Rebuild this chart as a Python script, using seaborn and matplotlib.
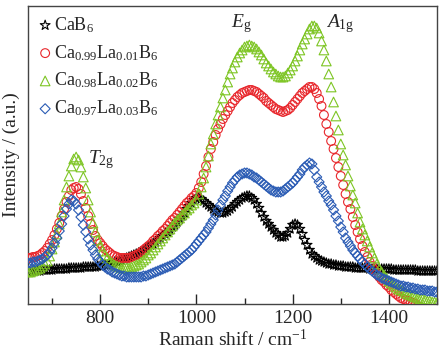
import numpy as np
import matplotlib
matplotlib.use("Agg")
import matplotlib.pyplot as plt
import seaborn as sns
import pandas as pd

# Raman shift (cm-1), sampled every 5 cm-1
shift = list(range(650, 1501, 5))

# intensities (a.u.)
cab6 = [32, 32, 33, 33, 33, 33, 34, 34, 34, 34, 34, 35, 35, 35, 35, 35, 35, 36, 36, 36, 36, 36, 36, 37, 37, 37, 37, 37, 37, 38, 38,
        38, 39, 39, 40, 41, 42, 42, 43, 44, 45, 46, 47, 48, 49, 50, 51, 52, 54, 55, 57, 59, 60, 62, 64, 66, 68, 70, 72, 74, 77, 79, 82, 85, 88, 91, 95, 98, 101, 104, 106,
        106, 105, 103, 101, 99, 97, 95, 93, 92, 91, 91, 92, 93, 95, 97, 100, 102, 104, 106, 107, 108, 108, 106, 104, 100, 96, 91, 87, 83, 80, 77, 74, 71, 69, 67, 67, 68, 71, 75, 79,
        80, 79, 75, 70, 64, 59, 54, 50, 48, 46, 44, 43, 42, 41, 40, 40, 39, 39, 38, 38, 38, 37, 37, 37, 37, 36, 36, 36, 36, 36, 36, 35, 35, 35, 35, 35, 35, 35, 35, 35,
        35, 34, 34, 34, 34, 34, 34, 34, 34, 34, 34, 33, 33, 33, 33, 33, 33, 33, 33, 33]
la001 = [46, 46, 47, 47, 48, 49, 51, 53, 56, 60, 64, 69, 75, 81, 88, 95, 102, 108, 114, 116, 117, 115, 110, 103, 96, 88, 80, 74, 68, 64, 61,
         58, 55, 53, 51, 49, 48, 47, 46, 46, 46, 46, 46, 47, 48, 49, 50, 52, 54, 56, 58, 60, 63, 65, 68, 70, 73, 75, 78, 81, 84, 86, 89, 92, 95, 98, 101, 103, 106, 108, 111,
         116, 122, 130, 138, 147, 155, 162, 169, 175, 180, 185, 189, 193, 197, 201, 204, 207, 209, 211, 212, 213, 214, 214, 213, 212, 210, 208, 206, 203, 201, 199, 197, 195, 194, 193, 192, 193, 194, 196, 199,
         202, 205, 208, 211, 213, 215, 217, 217, 215, 211, 205, 198, 189, 180, 172, 163, 155, 146, 137, 128, 119, 110, 102, 95, 87, 79, 72, 65, 58, 52, 47, 42, 38, 34, 30, 27, 24, 22, 19, 17,
         14, 12, 10, 8, 6, 5, 4, 3, 2, 1, 0, -2, -3, -4, -5, -6, -7, -8, -9, -10]
la002 = [32, 32, 33, 34, 35, 36, 38, 40, 43, 48, 55, 62, 70, 80, 92, 104, 117, 128, 138, 145, 147, 144, 137, 127, 116, 104, 92, 81, 72, 64, 58,
         53, 49, 46, 43, 41, 39, 38, 37, 36, 36, 36, 36, 37, 38, 39, 40, 42, 44, 46, 49, 51, 54, 57, 60, 63, 66, 69, 72, 75, 78, 81, 84, 86, 89, 91, 94, 96, 99, 101, 104,
         110, 117, 126, 137, 148, 160, 170, 180, 189, 197, 206, 214, 222, 230, 236, 242, 247, 251, 254, 257, 258, 259, 258, 257, 255, 252, 249, 245, 241, 238, 235, 232, 230, 228, 227, 227, 228, 231, 234, 238,
         243, 248, 254, 260, 265, 270, 275, 278, 278, 276, 271, 263, 254, 243, 230, 217, 202, 188, 174, 160, 149, 139, 128, 118, 109, 101, 91, 82, 75, 69, 63, 57, 51, 46, 40, 35, 32, 29, 26, 23,
         21, 19, 17, 15, 14, 13, 11, 10, 9, 8, 7, 6, 5, 5, 4, 3, 3, 2, 2, 1]
la003 = [41, 41, 42, 42, 43, 44, 45, 47, 49, 52, 56, 61, 66, 73, 80, 88, 95, 100, 104, 103, 100, 94, 87, 79, 72, 65, 59, 54, 49, 45, 42,
         39, 37, 35, 34, 32, 31, 30, 29, 28, 28, 27, 27, 27, 27, 27, 27, 27, 28, 28, 29, 30, 31, 32, 33, 34, 35, 36, 37, 38, 39, 40, 42, 44, 46, 48, 50, 52, 54, 57, 60,
         63, 66, 69, 72, 76, 80, 84, 89, 94, 99, 104, 108, 113, 117, 121, 124, 127, 129, 130, 131, 131, 130, 129, 127, 126, 124, 122, 120, 118, 116, 114, 113, 112, 112, 112, 113, 115, 117, 119, 121,
         124, 127, 130, 134, 137, 139, 141, 140, 134, 127, 122, 117, 112, 108, 103, 99, 94, 88, 83, 77, 72, 66, 62, 58, 54, 51, 48, 45, 42, 40, 37, 35, 33, 31, 29, 28, 26, 25, 24, 23,
         22, 21, 20, 19, 18, 18, 17, 17, 16, 16, 15, 15, 14, 14, 14, 13, 13, 13, 12, 12]

labels = ["CaB$_6$", "Ca$_{0.99}$La$_{0.01}$B$_6$",
          "Ca$_{0.98}$La$_{0.02}$B$_6$", "Ca$_{0.97}$La$_{0.03}$B$_6$"]
colors = ["black", "#e8262b", "#7dc523", "#2a5bb4"]
markers = ["*", "o", "^", "D"]
sizes = [55, 40, 48, 26]

sns.set_theme(style="white")
plt.rcParams['font.family'] = ['Liberation Serif', 'DejaVu Serif']
plt.rcParams['mathtext.fontset'] = 'custom'
plt.rcParams['mathtext.rm'] = 'Liberation Serif'
plt.rcParams['mathtext.it'] = 'Liberation Serif:italic'

fig = plt.figure(figsize=(4.44, 3.52), dpi=100)
ax = fig.add_axes([28/444, 48/352, 409/444, 298/352])

series = [cab6, la001, la002, la003]
draw_order = [2, 1, 3, 0]
for i in draw_order:
    df = pd.DataFrame({"shift": shift, "y": series[i]})
    sns.scatterplot(data=df, x="shift", y="y", ax=ax, marker=markers[i], s=sizes[i],
                    facecolor="none", edgecolor=colors[i], linewidth=0.8,
                    label=labels[i], zorder=2 + i)

handles, labs = ax.get_legend_handles_labels()
order = [labs.index(l) for l in labels]
ax.legend([handles[k] for k in order], [labs[k] for k in order], loc="upper left",
          frameon=False, fontsize=13, handletextpad=0.05, borderaxespad=0.2,
          labelspacing=0.45, handlelength=0.9, borderpad=0.3)

ax.set_xlim(650, 1500)
ax.set_ylim(0, 298)
ax.set_xticks([800, 1000, 1200, 1400])
ax.set_xticks([700, 900, 1100, 1300, 1500], minor=True)
ax.set_yticks([])
ax.tick_params(axis="x", which="major", direction="in", length=7, width=1, labelsize=14, pad=4)
ax.tick_params(axis="x", which="minor", direction="in", length=4, width=1)
ax.tick_params(axis="x", bottom=True, which="both")
for sp in ax.spines.values():
    sp.set_color("#444444")
    sp.set_linewidth(1.0)

ax.set_xlabel("Raman shift / cm$^{-1}$", fontsize=14, labelpad=2)
ax.set_ylabel("Intensity / (a.u.)", fontsize=14, labelpad=6)

ax.text(775, 144, "$T_{\\rm 2g}$", fontsize=14, va="center")
ax.text(1072, 280, "$E_{\\rm g}$", fontsize=14, va="center")
ax.text(1270, 280, "$A_{\\rm 1g}$", fontsize=14, va="center")

plt.savefig("out.png", dpi=100)
